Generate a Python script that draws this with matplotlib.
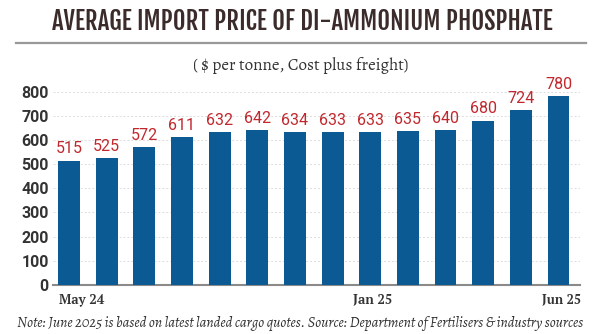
import matplotlib
matplotlib.use("Agg")
import matplotlib.pyplot as plt
from matplotlib import font_manager as fm

months = ["May 24", "Jun 24", "Jul 24", "Aug 24", "Sep 24", "Oct 24", "Nov 24",
          "Dec 24", "Jan 25", "Feb 25", "Mar 25", "Apr 25", "May 25", "Jun 25"]
prices = [515, 525, 572, 611, 632, 642, 634, 633, 633, 635, 640, 680, 724, 780]
shown_ticks = ["May 24", "Jan 25", "Jun 25"]
yticks = [0, 100, 200, 300, 400, 500, 600, 700, 800]

fonts = fm.fontManager.ttflist
names = {f.name for f in fonts}


def pick(*cands):
    for c in cands:
        if c in names:
            return c
    return "DejaVu Sans"


def pick_bold(*cands):
    for c in cands:
        if any(f.name == c and (f.weight in ("bold", "semibold", 600, 700)) for f in fonts):
            return c
    return pick(*cands)


title_font = pick("Fjalla One", "Roboto Condensed", "Oswald", "Barlow Condensed", "Archivo Narrow")
serif_font = pick("Alegreya", "PT Serif", "Merriweather", "Noto Serif", "Liberation Serif")
tick_font = pick_bold("Alegreya", "PT Serif", "Noto Serif", "Liberation Serif")
note_font = pick("Alegreya", "PT Serif", "Noto Serif", "Liberation Serif")
num_font = pick("Roboto", "DejaVu Sans")

W, H = 600, 334
fig = plt.figure(figsize=(6, 3.34), dpi=100)
ax = fig.add_axes([53 / W, 1 - 285 / H, 527 / W, 205 / H])

x = list(range(len(months)))
ax.bar(x, prices, width=0.58, color="#0b5a94", zorder=3)
for xi, v in zip(x, prices):
    ax.annotate(str(v), (xi, v), xytext=(0, 3), textcoords="offset points",
                ha="center", va="bottom", color="#c0282d", fontsize=11.5,
                family=num_font, zorder=4)

ax.set_xlim(-0.425, 13.57)
ax.set_ylim(0, 848)
ax.set_yticks(yticks)
ax.set_yticklabels([str(t) for t in yticks], fontsize=11.5, fontweight="bold",
                   color="#333333", family=num_font)
ax.tick_params(axis="y", length=0, pad=3)
ax.yaxis.grid(True, linestyle=(0, (2, 2)), color="#dcdcdc", linewidth=0.7, zorder=0)
for s in ["top", "right", "left"]:
    ax.spines[s].set_visible(False)
ax.spines["bottom"].set_color("#8a8a8a")
ax.spines["bottom"].set_linewidth(1.5)
ax.set_xticks([])

fig.canvas.draw()
renderer = fig.canvas.get_renderer()


def fit_text(xpx, ypx, s, target_w, ha, **kw):
    t = fig.text(xpx / W, 1 - ypx / H, s, ha=ha, va="center", **kw)
    w = t.get_window_extent(renderer).width
    t.set_fontsize(t.get_fontsize() * target_w / w)
    return t


tick_px = {"May 24": (59, 104), "Jan 25": (353, 392), "Jun 25": (542, 581)}
for lab in shown_ticks:
    l, r = tick_px[lab]
    fit_text((l + r) / 2, 300, lab, r - l, "center", fontsize=11, color="#333333",
             family=tick_font, fontweight="bold")

fit_text(302, 21.7, "AVERAGE IMPORT PRICE OF DI-AMMONIUM PHOSPHATE", 500, "center",
         fontsize=18, fontweight="bold", color="#3b2b2b", family=title_font)
fig.add_artist(plt.Line2D([16 / W, 586 / W], [1 - 42.7 / H] * 2, color="#999999",
                          linewidth=1.6, transform=fig.transFigure))
fit_text(300.5, 65, "( $ per tonne, Cost plus freight)", 215, "center",
         fontsize=11, color="#333333", family=serif_font)
fit_text(300, 323, "Note: June 2025 is based on latest landed cargo quotes. Source: Department of Fertilisers & industry sources",
         568, "center", fontsize=9.5, style="italic", color="#333333", family=note_font)

fig.savefig("out.png", dpi=100)
